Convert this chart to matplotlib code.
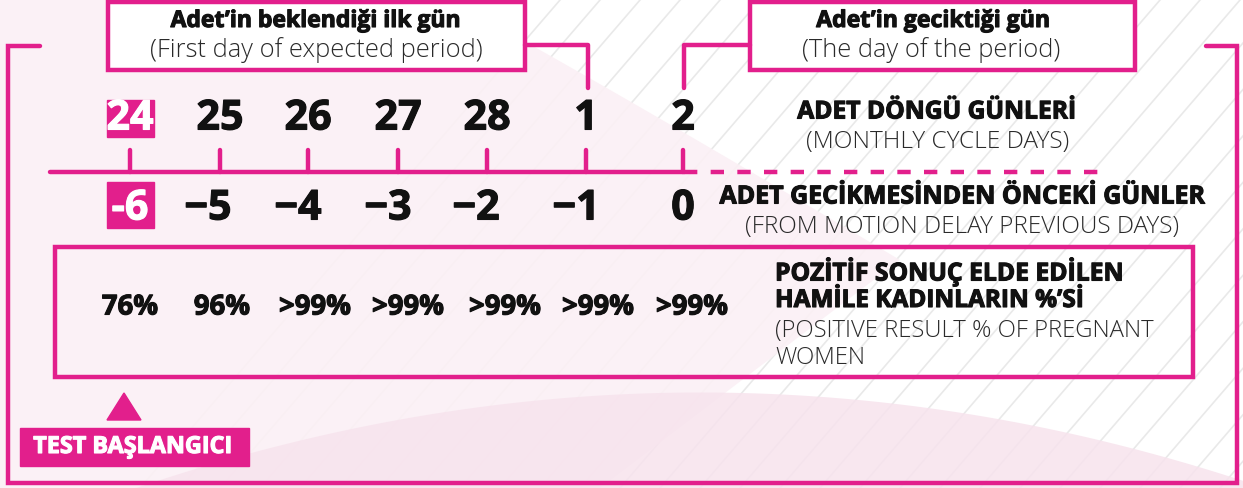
import matplotlib
matplotlib.use('Agg')
import matplotlib.pyplot as plt
import matplotlib.patches as mpatches
import matplotlib.patheffects as pe
import numpy as np

# data
cycle_days = ['24', '25', '26', '27', '28', '1', '2']
delay_days = ['-6', '\u22125', '\u22124', '\u22123', '\u22122', '\u22121', '0']
positive_pct = ['76%', '96%', '>99%', '>99%', '>99%', '>99%', '>99%']

cycle_title = 'ADET DÖNGÜ GÜNLERİ'
cycle_sub = '(MONTHLY CYCLE DAYS)'
delay_title = 'ADET GECİKMESİNDEN ÖNCEKİ GÜNLER'
delay_sub = '(FROM MOTION DELAY PREVIOUS DAYS)'
pct_title = ['POZİTİF SONUÇ ELDE EDİLEN', 'HAMİLE KADINLARIN %’Sİ']
pct_sub = ['(POSITIVE RESULT % OF PREGNANT', 'WOMEN']
box1_title = 'Adet’in beklendiği ilk gün'
box1_sub = '(First day of expected period)'
box2_title = 'Adet’in geciktiği gün'
box2_sub = '(The day of the period)'
start_label = 'TEST BAŞLANGICI'

# layout (pixels)
tick_x = [130, 220, 308, 398, 487, 586, 683]
delay_x = [130, 208, 298, 388, 476, 576, 683]
pct_x = [130, 222, 315, 408, 505, 598, 692]

MAG = '#e21f8c'
FONT = 'Open Sans'
TXT = '#111111'
SUB = '#2a2a2a'

fig = plt.figure(figsize=(12.43, 4.88), dpi=100)
ax = fig.add_axes([0, 0, 1, 1])
ax.set_xlim(0, 1243)
ax.set_ylim(488, 0)
ax.axis('off')
rend = fig.canvas.get_renderer()


def fit_text(x, y, s, width, bold=True, ha='center', color=None, size=None):
    # draw text and scale it so it covers the wanted pixel width
    col = color or (TXT if bold else SUB)
    t = ax.text(x, y, s, ha=ha, va='center', fontsize=20, family=FONT,
                fontweight='bold' if bold else 'light', color=col, zorder=3)
    if size is None:
        w = t.get_window_extent(renderer=rend).width
        size = 20 * width / w
    t.set_fontsize(size)
    if bold:
        t.set_path_effects([pe.withStroke(linewidth=0.8, foreground=col)])
    return size


# background
ax.add_patch(mpatches.Rectangle((0, 0), 1243, 488, color='white', zorder=0))
t = np.linspace(0, 1, 50)
diag_x = 450 + 330 * t + 120 * t ** 2
diag_y = 0 + 180 * t + 80 * t ** 2
pink_pts = [(0, 0)] + list(zip(diag_x, diag_y)) + [(600, 488), (0, 488)]
for x0 in range(560, 1700, 40):
    ax.plot([x0, x0 - 420], [0, 488], color='#e9e9e9', lw=1.2, zorder=0.2)
ax.add_patch(mpatches.Polygon(pink_pts, color='#fbf0f5', lw=0, zorder=0.25, alpha=0.9))
xs = np.linspace(0, 1243, 300)
wave = np.minimum(392 + 0.0003 * (xs - 700) ** 2, 488)
ax.fill_between(xs, wave, 488, color='#f7e3ed', zorder=0.3, lw=0, alpha=0.85)

lw = 3.2
# outer bracket frame
ax.plot([40, 8, 8, 1237, 1237, 1206], [46, 46, 483, 483, 46, 46], color=MAG, lw=lw,
        solid_capstyle='round', solid_joinstyle='miter', zorder=2)

# top boxes with connectors
ax.add_patch(mpatches.Rectangle((108, 2), 417, 68, fc='white', ec=MAG, lw=lw, zorder=2))
ax.add_patch(mpatches.Rectangle((750, 2), 385, 68, fc='white', ec=MAG, lw=lw, zorder=2))
ax.plot([525, 588, 588], [45, 45, 88], color=MAG, lw=lw, solid_capstyle='round', zorder=2)
ax.plot([750, 684, 684], [45, 45, 88], color=MAG, lw=lw, solid_capstyle='round', zorder=2)
fit_text(316, 21, box1_title, 290)
fit_text(316, 50, box1_sub, 333, bold=False)
fit_text(933, 21, box2_title, 234)
fit_text(931, 50, box2_sub, 258, bold=False)

# axis line and ticks
ax.plot([50, 684], [172, 172], color=MAG, lw=lw, solid_capstyle='round', zorder=2)
ax.plot([684, 1105], [172, 172], color=MAG, lw=lw, ls=(0, (3, 3)), zorder=2)
for x in tick_x:
    ax.plot([x, x], [150, 172], color=MAG, lw=lw, solid_capstyle='round', zorder=2)

# highlight squares for the first day
ax.add_patch(mpatches.Rectangle((107, 100), 47, 37, color=MAG, zorder=2))
ax.add_patch(mpatches.Rectangle((107, 182), 47, 46, color=MAG, zorder=2))

num_size = None
for i, (x, lab) in enumerate(zip(tick_x, cycle_days)):
    num_size = fit_text(x, 119, lab, 47, color='white' if i == 0 else TXT, size=num_size)
for i, (x, lab) in enumerate(zip(delay_x, delay_days)):
    fit_text(x, 209, lab, 0, color='white' if i == 0 else TXT, size=num_size)

fit_text(937, 112, cycle_title, 279)
fit_text(938, 142, cycle_sub, 262, bold=False)
fit_text(962, 197, delay_title, 486)
fit_text(962, 227, delay_sub, 432, bold=False)

# percentage box; the first ">99%" sets the size for all values
ax.add_patch(mpatches.Rectangle((55, 247), 1138, 130, fc='none', ec=MAG, lw=lw, zorder=2))
order = [2, 0, 1, 3, 4, 5, 6]
pct_size = None
for k in order:
    pct_size = fit_text(pct_x[k], 307, positive_pct[k], 72, size=pct_size)
fit_text(775, 272, pct_title[0], 349, ha='left')
fit_text(775, 301, pct_title[1], 309, ha='left')
sub_size = fit_text(775, 331, pct_sub[0], 378, bold=False, ha='left')
fit_text(775, 358, pct_sub[1], 0, bold=False, ha='left', size=sub_size)

# start marker
ax.add_patch(mpatches.Polygon([(107, 420), (141, 420), (124, 393)], color=MAG, zorder=2))
ax.add_patch(mpatches.Rectangle((20, 428), 229, 38, color=MAG, zorder=2))
fit_text(133, 447, start_label, 199, color='white')

fig.savefig('out.png', dpi=100)
